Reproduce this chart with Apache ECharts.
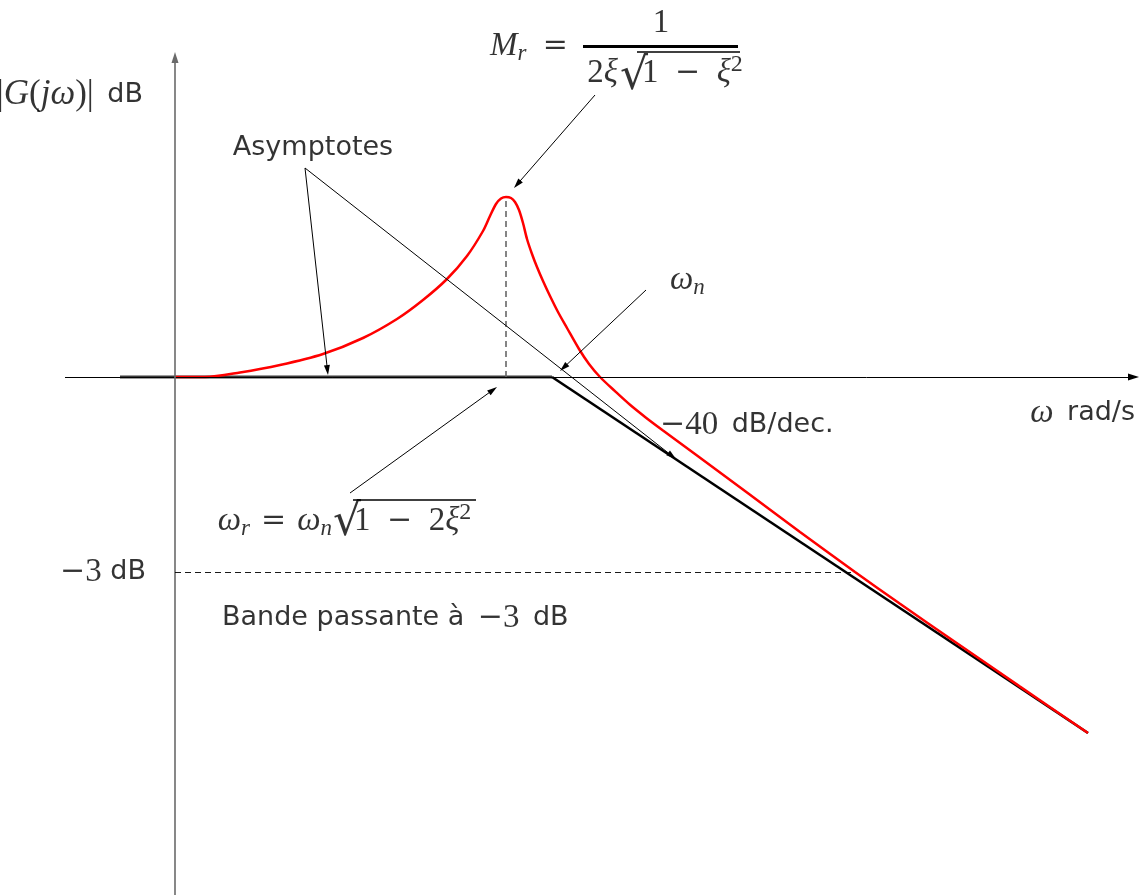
<!DOCTYPE html>
<html>
<head>
<meta charset="utf-8">
<script src="https://cdn.jsdelivr.net/npm/echarts@6/dist/echarts.min.js"></script>
<style>
  html, body { margin: 0; padding: 0; background: #fff; }
  #chart { width: 1139px; height: 895px; }
</style>
</head>
<body>
<div id="chart"></div>
<script>
// Magnitude of a lightly damped 2nd-order system (schematic units, linear plot)
const curveOmega = [0, 3.0, 6.5, 10.5, 14.8, 18.8, 22.2, 24.8, 27.2, 29.2, 30.8, 31.5, 32.1, 32.6, 33.1, 33.6, 34.0, 34.4, 34.8, 35.2, 35.7, 36.2, 36.8, 37.5, 38.3, 39.2, 40.4, 41.4, 42.5, 44.0, 45.5, 47.1, 48.8, 52.2, 57.2, 62.5, 68.0, 72.5, 77.8, 84.5, 91.3];
const curveGain  = [0, 0, 0.45, 1.2, 2.3, 3.9, 5.8, 7.7, 9.8, 12.1, 14.6, 16.1, 17.3, 17.85, 18.0, 17.9, 17.5, 16.7, 15.4, 13.8, 12.3, 11.0, 9.6, 8.1, 6.5, 4.9, 2.8, 1.3, 0, -1.42, -2.78, -4.07, -5.35, -7.85, -11.56, -15.5, -19.5, -22.68, -26.35, -30.96, -35.6];

// Straight-line asymptotes: 0 dB up to ωn, then -40 dB/dec.
const asymptoteOmega = [-5.5, 37.7, 91.3];
const asymptoteGain  = [0, 0, -35.6];

// Resonance peak (ωr, Mr) and the -3 dB bandwidth limit
const resonanceOmega = 33.1;
const resonanceGain = 18.0;
const cutoffOmega = 68.0;
const cutoffGain = -19.5;

// Extent of the drawn axes
const omegaAxisRange = [-11.0, 96.4];
const gainAxisRange = [-51.8, 32.5];

const zip = (xs, ys) => xs.map((x, i) => [x, ys[i]]);

const SANS = 'DejaVu Sans';
const SERIF = 'Liberation Serif';
const EN = '\u2002';     // en space
const MID = '\u2004';    // three-per-em space

// Layout of the annotations
const layout = {
  pointers: [
    [[13.0, 20.9], [15.3, 0.2]],
    [[13.0, 20.9], [50.1, -8.2]],
    [[42.0, 28.2], [33.9, 18.9]],
    [[47.1, 8.7], [38.5, 0.6]],
    [[17.5, -11.6], [32.2, -1.0]]
  ],
  fractionBar: [[40.8, 33.1], [56.3, 33.1]],
  radicalBars: [
    [[46.2, 32.5], [56.5, 32.5]],
    [[17.8, -12.3], [30.1, -12.3]]
  ],
  notes: [
    { at: [-3.2, 28.2], align: 'right', text: '{muL||}{miL|G}{muL|(}{miL|jω}{muL|)|}{s|' + EN + 'dB}' },
    { at: [13.8, 22.9], align: 'center', text: '{s|Asymptotes}' },
    { at: [39.3, 33.1], align: 'right', text: '{mi|M}{sub|r}{mu|' + EN + '}{op|=}' },
    { at: [48.6, 35.4], align: 'center', text: '{mu|1}' },
    { at: [44.3, 30.4], align: 'right', text: '{mu|2}{mi|ξ}' },
    { at: [45.9, 29.9], align: 'center', text: '{rad|√}' },
    { at: [46.7, 30.4], align: 'left', text: '{mu|1' + EN + '}{op|−}{mu|' + EN + '}{mi|ξ}{sup|2}' },
    { at: [49.5, 9.7], align: 'left', text: '{mi|ω}{sub|n}' },
    { at: [48.5, -4.8], align: 'left', text: '{op|−}{mu|40}{s|' + EN + 'dB/dec.}' },
    { at: [96.0, -3.6], align: 'right', text: '{mi|ω}{s|' + EN + 'rad/s}' },
    { at: [-2.9, -19.5], align: 'right', text: '{op|−}{mu|3}{s| dB}' },
    { at: [4.7, -24.1], align: 'left', text: '{s|Bande passante à' + EN + '}{op|−}{mu|3}{s|' + EN + 'dB}' },
    { at: [15.7, -14.4], align: 'right', text: '{mi|ω}{sub|r}{mu|' + MID + '}{op|=}{mu|' + MID + '}{mi|ω}{sub|n}' },
    { at: [17.2, -14.7], align: 'center', text: '{rad|√}' },
    { at: [17.9, -14.4], align: 'left', text: '{mu|1' + EN + '}{op|−}{mu|' + EN + '2}{mi|ξ}{sup|2}' }
  ]
};

const rich = {
  s:   { fontFamily: SANS, fontSize: 27, color: '#000' },
  mi:  { fontFamily: SERIF, fontStyle: 'italic', fontSize: 33, color: '#000' },
  mu:  { fontFamily: SERIF, fontSize: 33, color: '#000' },
  miL: { fontFamily: SERIF, fontStyle: 'italic', fontSize: 35, color: '#000' },
  muL: { fontFamily: SERIF, fontSize: 35, color: '#000' },
  op:  { fontFamily: 'DejaVu Serif', fontSize: 30, color: '#000' },
  sub: { fontFamily: SERIF, fontStyle: 'italic', fontSize: 23, color: '#000', padding: [15, 0, 0, 0] },
  sup: { fontFamily: SERIF, fontSize: 24, color: '#000', padding: [0, 0, 17, 0] },
  rad: { fontFamily: 'DejaVu Serif', fontSize: 44, color: '#000' }
};

// Arrow symbols are centred on the line end; pull the end back by half an arrow
// (both axes use 10 px per unit, so this is a plain length in data units).
const retract = (a, b, len) => {
  const dx = b[0] - a[0], dy = b[1] - a[1];
  const d = Math.hypot(dx, dy);
  return [b[0] - dx / d * len, b[1] - dy / d * len];
};

const seg = (a, b, extra) => [Object.assign({ coord: a }, extra || {}), { coord: b }];
const arrow = (a, b, half, extra) => seg(a, retract(a, b, half), extra);

const chart = echarts.init(document.getElementById('chart'), null, { renderer: 'canvas' });

chart.setOption({
  animation: false,
  backgroundColor: '#fff',
  grid: { left: 0, right: 0, top: 0, bottom: 0 },
  xAxis: { type: 'value', min: -17.5, max: 96.4, show: false },
  yAxis: { type: 'value', min: -51.8, max: 37.7, show: false },
  series: [
    {
      // axes
      type: 'line', data: [], silent: true, z: 2,
      markLine: {
        silent: true, animation: false,
        label: { show: false },
        symbol: ['none', 'triangle'],
        symbolSize: [7, 11],
        data: [
          arrow([omegaAxisRange[0], 0], [omegaAxisRange[1], 0], 0.55, { lineStyle: { color: '#000', width: 1, type: 'solid' } }),
          arrow([0, gainAxisRange[0]], [0, gainAxisRange[1]], 0.55, { lineStyle: { color: '#6a6a6a', width: 1.6, type: 'solid' } })
        ]
      }
    },
    {
      // guide lines at the resonance and at -3 dB
      type: 'line', data: [], silent: true, z: 2,
      markLine: {
        silent: true, animation: false,
        label: { show: false },
        symbol: ['none', 'none'],
        data: [
          seg([resonanceOmega, 0], [resonanceOmega, resonanceGain], { lineStyle: { color: '#666', width: 1.6, type: [6, 4] } }),
          seg([0, cutoffGain], [cutoffOmega, cutoffGain], { lineStyle: { color: '#000', width: 0.9, type: [6, 4] } })
        ]
      }
    },
    {
      name: 'asymptote 0 dB',
      type: 'line', data: zip(asymptoteOmega.slice(0, 2), asymptoteGain.slice(0, 2)),
      symbol: 'none', z: 3,
      lineStyle: { color: '#3a3a3a', width: 3 }
    },
    {
      name: 'asymptote -40 dB/dec',
      type: 'line', data: zip(asymptoteOmega.slice(1), asymptoteGain.slice(1)),
      symbol: 'none', z: 3,
      lineStyle: { color: '#000', width: 2.6 }
    },
    {
      name: '|G(jω)|',
      type: 'line', data: zip(curveOmega, curveGain),
      symbol: 'none', smooth: 0.3, z: 4,
      lineStyle: { color: '#ff0000', width: 2.5 }
    },
    {
      // pointer arrows
      type: 'line', data: [], silent: true, z: 5,
      markLine: {
        silent: true, animation: false,
        label: { show: false },
        symbol: ['none', 'triangle'],
        symbolSize: [6, 10],
        lineStyle: { color: '#000', width: 1, type: 'solid' },
        data: layout.pointers.map(p => arrow(p[0], p[1], 0.5))
      }
    },
    {
      // fraction bar and radical overlines of the formulas
      type: 'line', data: [], silent: true, z: 5,
      markLine: {
        silent: true, animation: false,
        label: { show: false },
        symbol: ['none', 'none'],
        lineStyle: { color: '#000', width: 1.6, type: 'solid' },
        data: [seg(layout.fractionBar[0], layout.fractionBar[1], { lineStyle: { width: 2.8 } })]
          .concat(layout.radicalBars.map(p => seg(p[0], p[1])))
      }
    },
    {
      // text annotations
      type: 'scatter', symbolSize: 0, silent: true, z: 6,
      data: layout.notes.map(n => ({
        value: n.at,
        label: {
          show: true, position: [0, 0], color: '#000',
          align: n.align, verticalAlign: 'middle',
          formatter: n.text, rich: rich
        }
      }))
    }
  ]
});
</script>
</body>
</html>
